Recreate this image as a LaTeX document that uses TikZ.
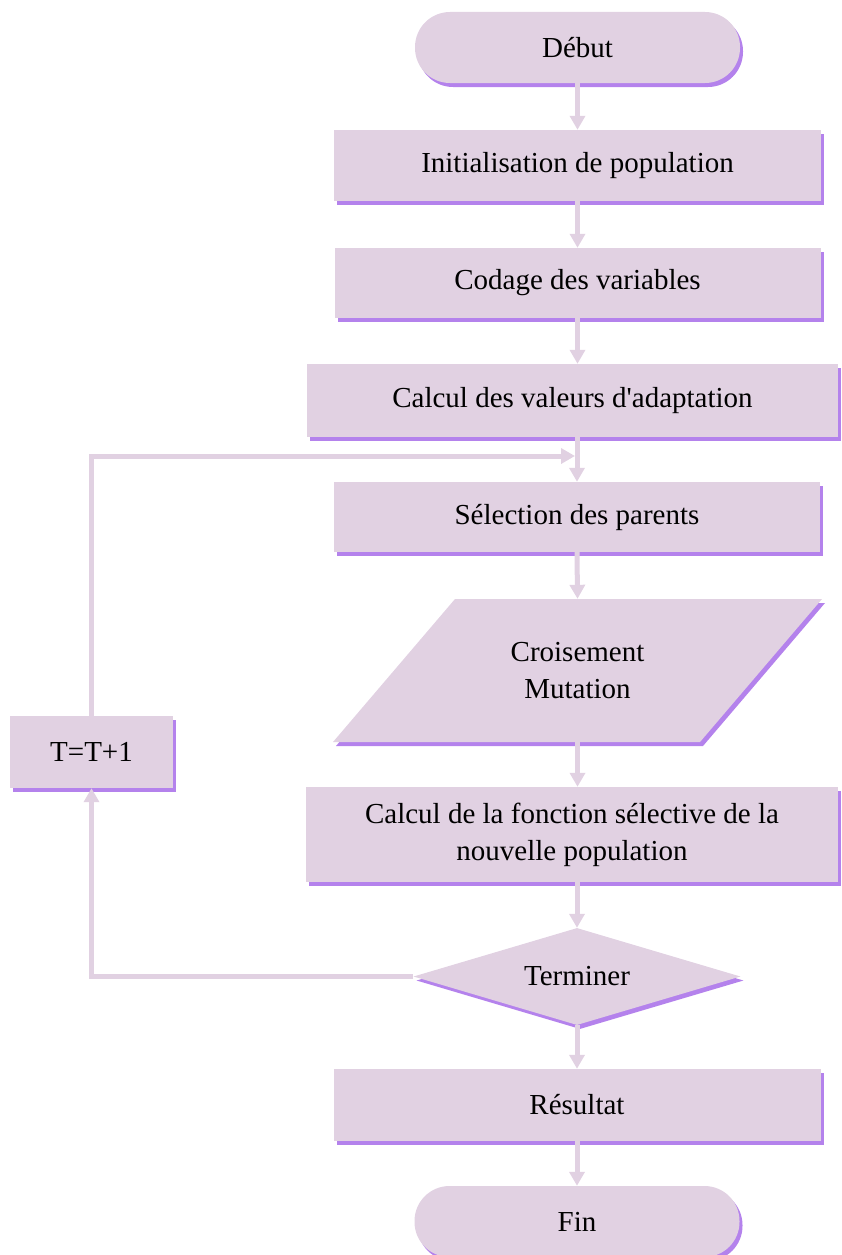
\documentclass[tikz,border=0pt]{standalone}
\usepackage{fontspec}
\setmainfont{Liberation Serif}
\newfontfamily\rawserif{Liberation Serif}
\usetikzlibrary{arrows.meta,shapes.geometric,shadows}
\definecolor{boxfill}{RGB}{225,209,226}
\definecolor{boxshadow}{RGB}{180,130,236}
\tikzset{
  shade3/.style={drop shadow={shadow xshift=3pt,shadow yshift=-4pt,fill=boxshadow,opacity=1}},
  txt/.style={font=\fontsize{29}{37}\selectfont, align=center, inner sep=0pt},
  procbox/.style={rectangle, fill=boxfill, shade3, txt},
  termbox/.style={procbox, rounded corners=35pt},
  decbox/.style={diamond, fill=boxfill, shade3, txt, aspect=3.35},
  flow/.style={line width=5pt, draw=boxfill, -{Triangle[width=15pt,length=14pt]}},
}
\begin{document}
\begin{tikzpicture}[x=1pt,y=-1pt]
\useasboundingbox (0,0) rectangle (841,1255);

\node[termbox, minimum width=325pt, minimum height=71pt] (debut) at (577.5,47.5) {Début};
\node[procbox, minimum width=487pt, minimum height=71pt] (init) at (577.5,165.5) {Initialisation de population};
\node[procbox, minimum width=486pt, minimum height=70pt] (codage) at (577.5,283) {Codage des variables};
\node[procbox, minimum width=531pt, minimum height=73pt] (calc1) at (572.5,400.5) {Calcul des valeurs d{\rawserif'}adaptation};
\node[procbox, minimum width=486pt, minimum height=70pt] (sel) at (577,517) {Sélection des parents};
\fill[boxfill, shade3] (455,599) -- (822,599) -- (700,742) -- (333,742) -- cycle;
\node[txt, minimum width=367pt, minimum height=143pt] (cross) at (577.5,670.5) {Croisement\\Mutation};
\node[procbox, minimum width=532pt, minimum height=95pt] (calc2) at (572,834.5) {Calcul de la fonction sélective de la\\nouvelle population};
\node[decbox, minimum width=327pt, minimum height=97pt] (term) at (577,976.5) {Terminer};
\node[procbox, minimum width=487pt, minimum height=72pt] (res) at (577,1105) {Résultat};
\node[termbox, minimum width=325pt, minimum height=71pt] (fin) at (577,1221.5) {Fin};
\node[procbox, minimum width=163pt, minimum height=72pt] (tbox) at (91.5,752) {T=T+1};

\coordinate (join) at (575,456);

\draw[flow] (debut.south) -- (init.north);
\draw[flow] (init.south) -- (codage.north);
\draw[flow] (codage.south) -- (codage.south |- calc1.north);
\draw[flow] (calc1.south -| sel.north) -- (sel.north);
\draw[flow] (sel.south) -- (cross.north);
\draw[flow] (cross.south) -- (cross.south |- calc2.north);
\draw[flow] (calc2.south -| term.north) -- (term.north);
\draw[flow] (term.south) -- (res.north);
\draw[flow] (res.south) -- (fin.north);
\draw[flow] (term.west) -- (term.west -| tbox.south) -- (tbox.south);
\draw[flow] (tbox.north) -- (tbox.north |- join) -- (join);
\end{tikzpicture}
\end{document}
